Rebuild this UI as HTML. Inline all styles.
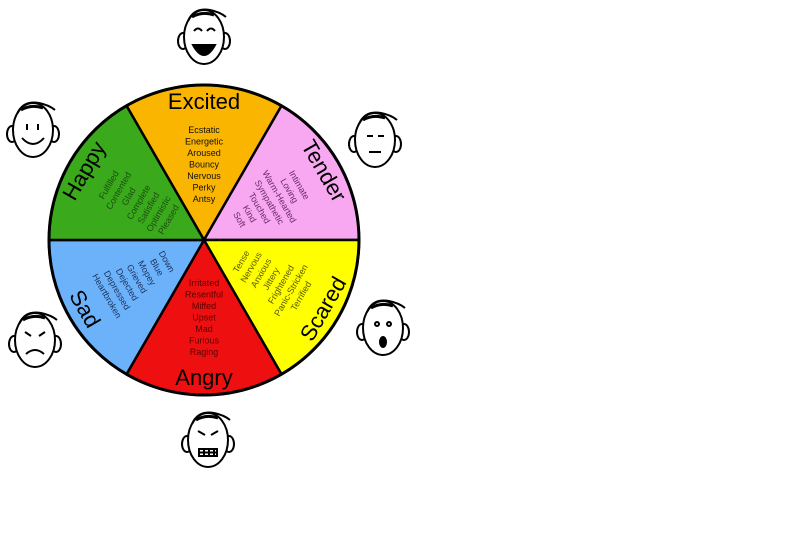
<!DOCTYPE html>
<html><head><meta charset="utf-8"><style>
html,body{margin:0;padding:0;background:#fff;}
svg{display:block;}
text{font-family:"Liberation Sans",sans-serif;}
.lbl{font-size:22px;fill:#000;text-anchor:middle;}
.ls{font-size:9px;text-anchor:middle;}
</style></head><body>
<svg width="800" height="534" viewBox="0 0 800 534" xmlns="http://www.w3.org/2000/svg">
<g stroke="#000" stroke-width="2.5" stroke-linejoin="round">
<path d="M204,240 L126.5,105.8 A155,155 0 0 1 281.5,105.8 Z" fill="#fab500"/>
<path d="M204,240 L281.5,105.8 A155,155 0 0 1 359,240 Z" fill="#f8a8f0"/>
<path d="M204,240 L359,240 A155,155 0 0 1 281.5,374.2 Z" fill="#ffff00"/>
<path d="M204,240 L281.5,374.2 A155,155 0 0 1 126.5,374.2 Z" fill="#ee1010"/>
<path d="M204,240 L126.5,374.2 A155,155 0 0 1 49,240 Z" fill="#6cb2fb"/>
<path d="M204,240 L49,240 A155,155 0 0 1 126.5,105.8 Z" fill="#3aaa1c"/>
<circle cx="204" cy="240" r="155" fill="none" stroke-width="3"/>
</g>
<!-- top wedges -->
<g transform="translate(204,240)">
 <text class="lbl" x="0" y="-131">Excited</text>
 <g class="ls" fill="#111"><text x="0" y="-107">Ecstatic</text><text x="0" y="-95.5">Energetic</text><text x="0" y="-84">Aroused</text><text x="0" y="-72.5">Bouncy</text><text x="0" y="-61">Nervous</text><text x="0" y="-49.5">Perky</text><text x="0" y="-38">Antsy</text></g>
</g>
<g transform="translate(204,240) rotate(-60)">
 <text class="lbl" x="0" y="-131">Happy</text>
 <g class="ls" fill="#1d4d10"><text x="0" y="-107">Fulfilled</text><text x="0" y="-95.5">Contented</text><text x="0" y="-84">Glad</text><text x="0" y="-72.5">Complete</text><text x="0" y="-61">Satisfied</text><text x="0" y="-49.5">Optimistic</text><text x="0" y="-38">Pleased</text></g>
</g>
<g transform="translate(204,240) rotate(60)">
 <text class="lbl" x="0" y="-131">Tender</text>
 <g class="ls" fill="#6a2a66"><text x="0" y="-107">Intimate</text><text x="0" y="-95.5">Loving</text><text x="0" y="-84">Warm-Hearted</text><text x="0" y="-72.5">Sympathetic</text><text x="0" y="-61">Touched</text><text x="0" y="-49.5">Kind</text><text x="0" y="-38">Soft</text></g>
</g>
<!-- bottom wedges -->
<g transform="translate(204,240)">
 <text class="lbl" x="0" y="145">Angry</text>
 <g class="ls" fill="#5a0000"><text x="0" y="46">Irritated</text><text x="0" y="57.5">Resentful</text><text x="0" y="69">Miffed</text><text x="0" y="80.5">Upset</text><text x="0" y="92">Mad</text><text x="0" y="103.5">Furious</text><text x="0" y="115">Raging</text></g>
</g>
<g transform="translate(204,240) rotate(-60)">
 <text class="lbl" x="0" y="145">Scared</text>
 <g class="ls" fill="#5a5a00"><text x="0" y="46">Tense</text><text x="0" y="57.5">Nervous</text><text x="0" y="69">Anxious</text><text x="0" y="80.5">Jittery</text><text x="0" y="92">Frightened</text><text x="0" y="103.5">Panic-Stricken</text><text x="0" y="115">Terrified</text></g>
</g>
<g transform="translate(204,240) rotate(60)">
 <text class="lbl" x="0" y="145">Sad</text>
 <g class="ls" fill="#1a345e"><text x="0" y="46">Down</text><text x="0" y="57.5">Blue</text><text x="0" y="69">Mopey</text><text x="0" y="80.5">Grieved</text><text x="0" y="92">Dejected</text><text x="0" y="103.5">Depressed</text><text x="0" y="115">Heartbroken</text></g>
</g>
<!-- faces -->
<defs>
<g id="head" fill="#fff" stroke="#000" stroke-width="2">
 <ellipse cx="-21" cy="4" rx="5" ry="8"/><ellipse cx="21" cy="4" rx="5" ry="8"/>
 <ellipse cx="0" cy="0" rx="20" ry="27"/>
 <path d="M-16,-16 Q-10,-30 6,-27 Q16,-25 22,-20" fill="none"/>
 <path d="M-12,-20 Q-2,-26 10,-22" fill="none" stroke-width="3"/>
</g>
</defs>
<g transform="translate(204,37)"><use href="#head"/><g fill="none" stroke="#000" stroke-width="2"><path d="M-10,-6 q4,-5 8,0 M3,-6 q4,-5 8,0"/><path d="M-11,8 Q0,28 11,8 Z" fill="#000"/></g></g>
<g transform="translate(33,130)"><use href="#head"/><g fill="none" stroke="#000" stroke-width="2"><path d="M-6,-6 v6 M5,-6 v6"/><path d="M-11,8 Q0,20 11,8"/></g></g>
<g transform="translate(375,140)"><use href="#head"/><g fill="none" stroke="#000" stroke-width="2"><path d="M-8,-4 h6 M3,-4 h6"/><path d="M-6,12 h12"/></g></g>
<g transform="translate(383,328)"><use href="#head"/><g fill="none" stroke="#000" stroke-width="2"><circle cx="-6" cy="-4" r="2"/><circle cx="6" cy="-4" r="2"/><ellipse cx="0" cy="14" rx="3" ry="5" fill="#000"/></g></g>
<g transform="translate(35,340)"><use href="#head"/><g fill="none" stroke="#000" stroke-width="2"><path d="M-10,-8 l6,4 M10,-8 l-6,4"/><path d="M-9,14 Q0,6 9,14"/></g></g>
<g transform="translate(208,440)"><use href="#head"/><g fill="none" stroke="#000" stroke-width="2"><path d="M-10,-9 l7,4 M10,-9 l-7,4"/><rect x="-9" y="9" width="18" height="7" fill="#fff"/><path d="M-9,12.5 h18 M-4,9 v7 M1,9 v7 M6,9 v7"/></g></g>
</svg>
</body></html>
